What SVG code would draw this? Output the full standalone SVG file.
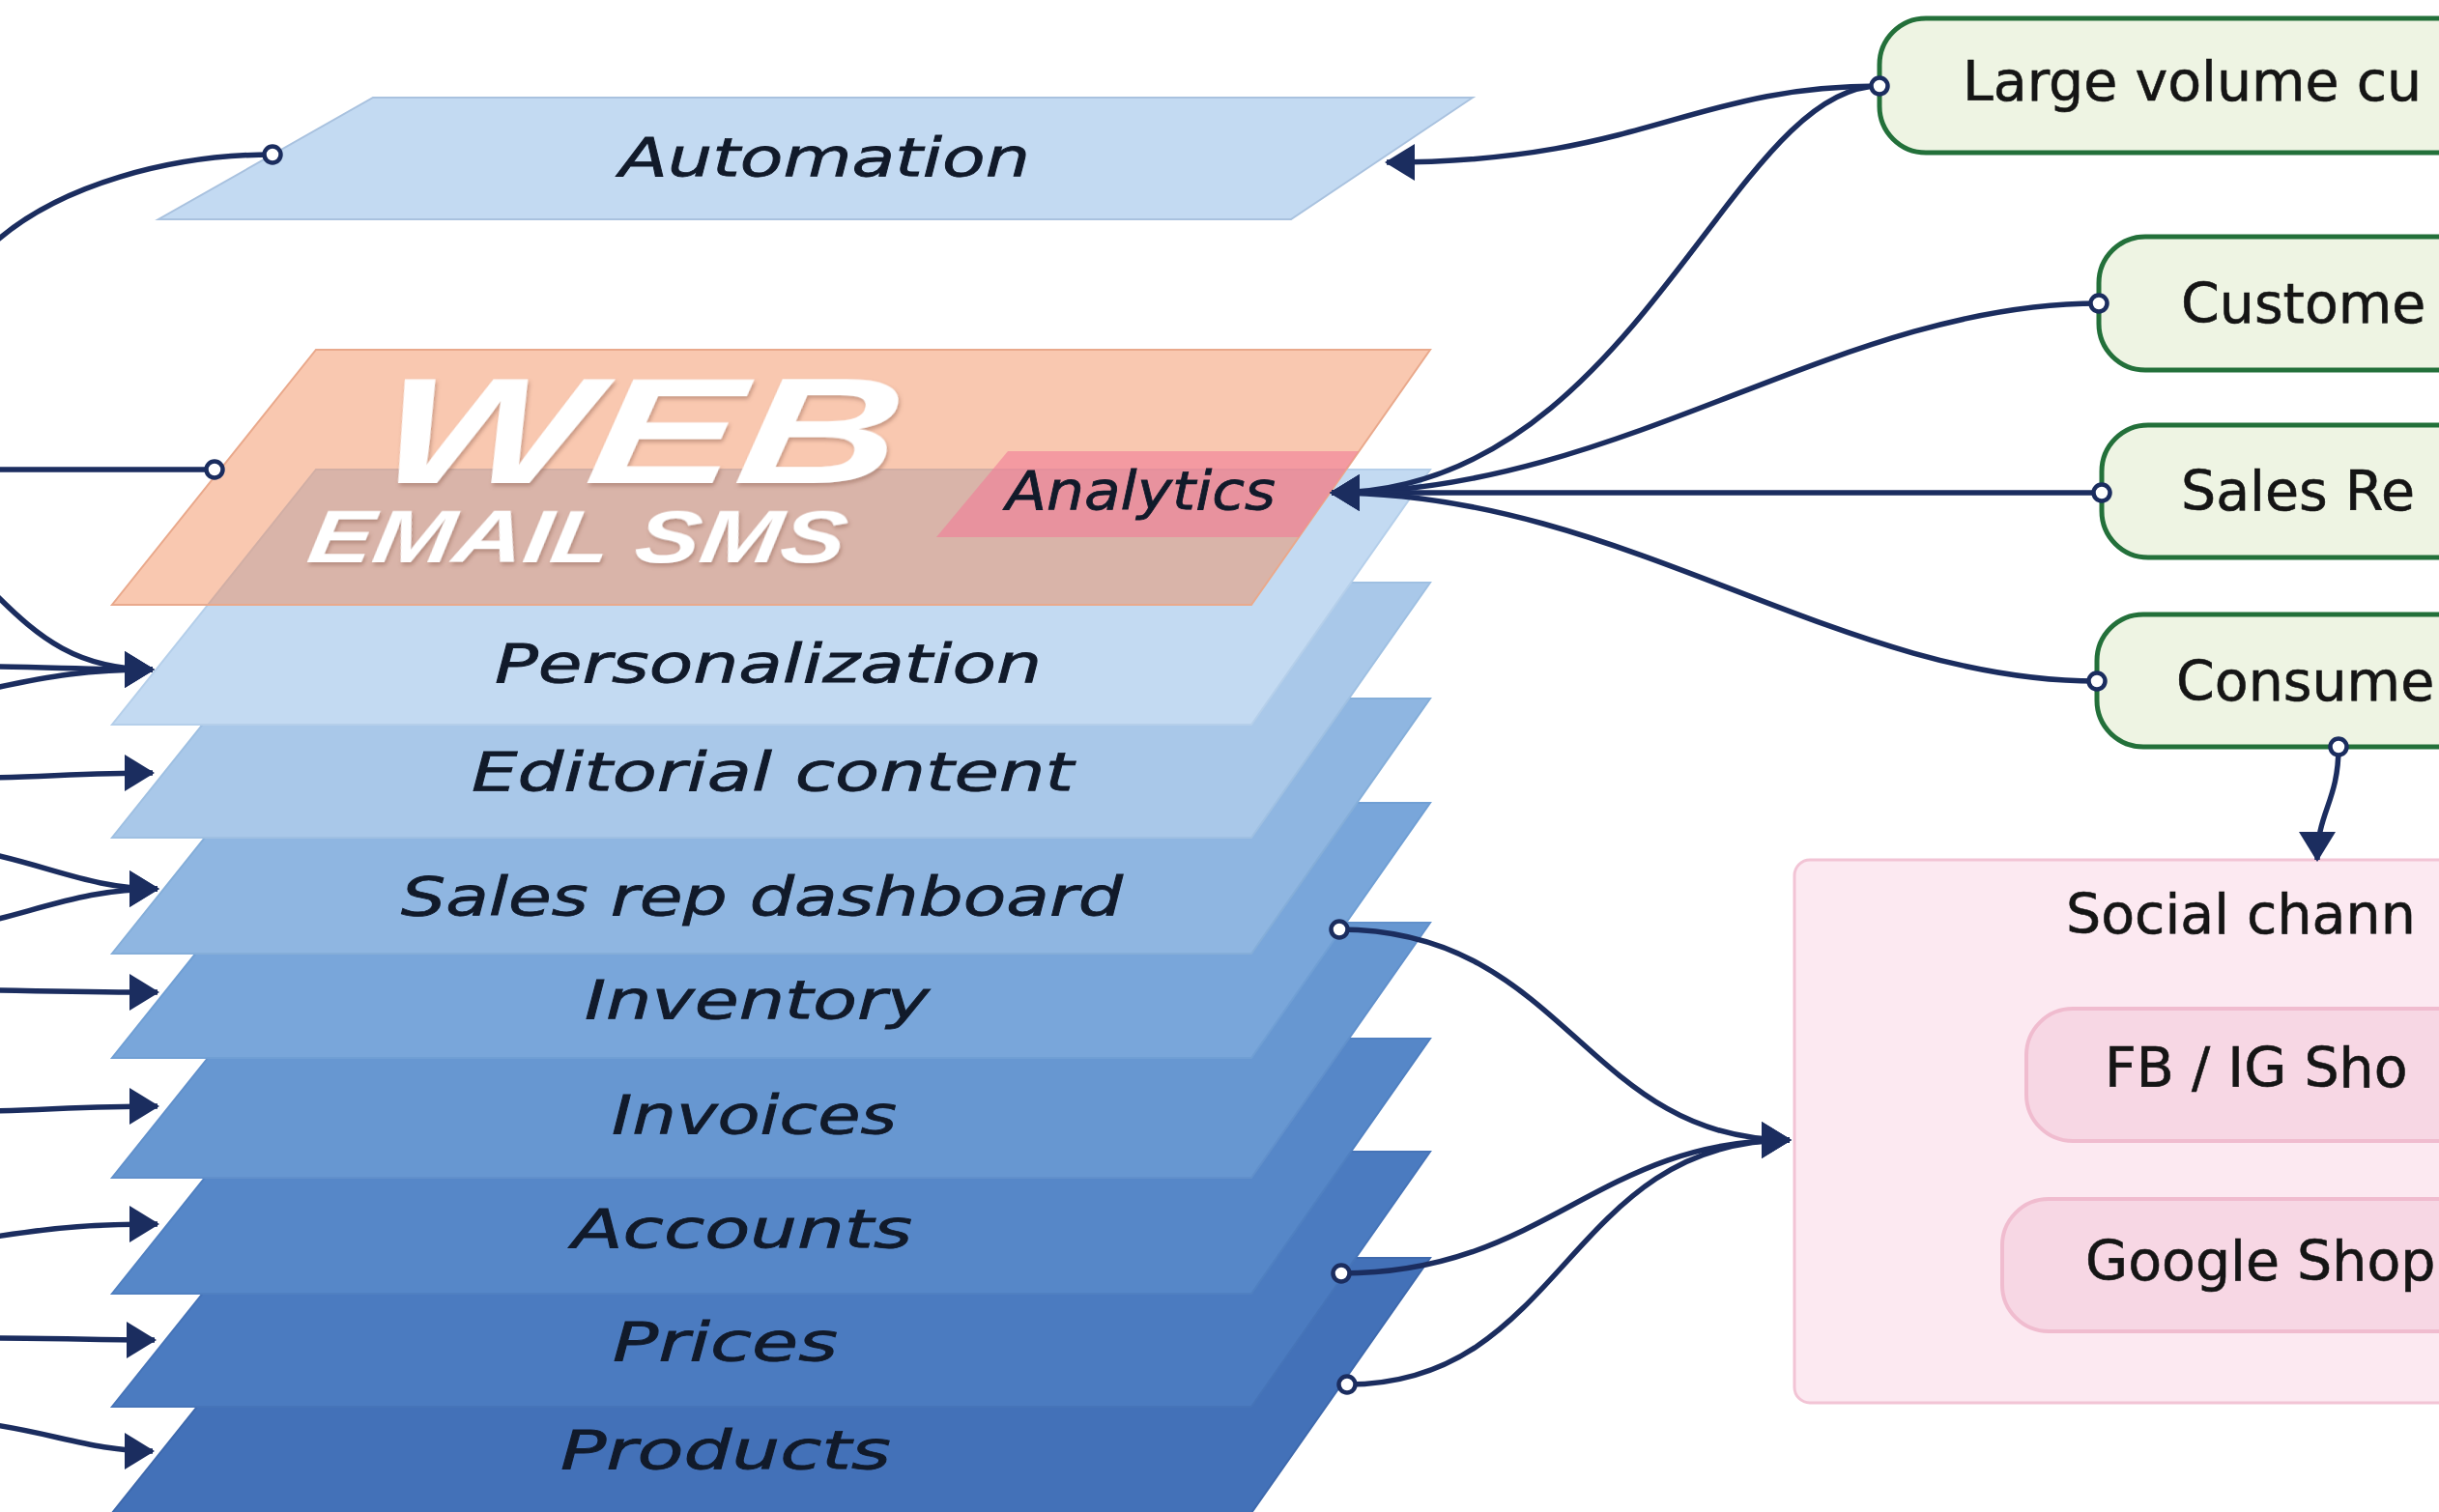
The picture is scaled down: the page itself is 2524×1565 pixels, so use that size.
<svg xmlns="http://www.w3.org/2000/svg" width="2524" height="1565" viewBox="0 0 2524 1565">
<defs>
<style>
.lbl{font-family:"DejaVu Sans","Liberation Sans",sans-serif;font-style:italic;font-size:56px;fill:#111a2a;stroke:#111a2a;stroke-width:0.8}
.big{font-family:"Liberation Sans","DejaVu Sans",sans-serif;font-style:italic;font-weight:bold;fill:#ffffff}
.ntx{font-family:"DejaVu Sans","Liberation Sans",sans-serif;font-size:57px;fill:#151515;stroke:#151515;stroke-width:0.6}
.layer{stroke-width:2}
.gnode{fill:#eef4e3;stroke:#23703a;stroke-width:5}
.pnode{fill:#f7d7e4;stroke:#f0bccf;stroke-width:4}
.conn{fill:none;stroke:#1b2d5f;stroke-width:5.5}
.dot{fill:#ffffff;stroke:#1b2d5f;stroke-width:4.5}
</style>
<marker id="arr" markerUnits="userSpaceOnUse" markerWidth="32" markerHeight="38" refX="29" refY="19" orient="auto">
<path d="M0,0 L31,19 L0,38 Z" fill="#1b2d5f"/>
</marker>
<filter id="sh" x="-10%" y="-10%" width="120%" height="130%">
<feDropShadow dx="2" dy="3" stdDeviation="2" flood-color="#8a5a4a" flood-opacity="0.45"/>
</filter>
</defs>
<rect width="2524" height="1565" fill="#ffffff"/>

<g id="layer-products"><polygon class="layer" points="327,1302 1480,1302 1295,1566 116,1566" fill="#4371b8" stroke="#3e69ad"/><text class="lbl" x="580" y="1520" textLength="342" lengthAdjust="spacingAndGlyphs">Products</text></g>
<g id="layer-prices"><polygon class="layer" points="327,1192 1480,1192 1295,1456 116,1456" fill="#4b7bc0" stroke="#4674b8"/><text class="lbl" x="634" y="1408" textLength="233" lengthAdjust="spacingAndGlyphs">Prices</text></g>
<g id="layer-accounts"><polygon class="layer" points="327,1075 1480,1075 1295,1339 116,1339" fill="#5687c8" stroke="#5080c1"/><text class="lbl" x="592" y="1291" textLength="352" lengthAdjust="spacingAndGlyphs">Accounts</text></g>
<g id="layer-invoices"><polygon class="layer" points="327,955 1480,955 1295,1219 116,1219" fill="#6797d1" stroke="#6190cb"/><text class="lbl" x="633" y="1173" textLength="295" lengthAdjust="spacingAndGlyphs">Invoices</text></g>
<g id="layer-inventory"><polygon class="layer" points="327,831 1480,831 1295,1095 116,1095" fill="#79a6da" stroke="#709fd4"/><text class="lbl" x="605" y="1054" textLength="357" lengthAdjust="spacingAndGlyphs">Inventory</text></g>
<g id="layer-salesrep"><polygon class="layer" points="327,723 1480,723 1295,987 116,987" fill="#8fb6e1" stroke="#85aed9"/><text class="lbl" x="415" y="947" textLength="747" lengthAdjust="spacingAndGlyphs">Sales rep dashboard</text></g>
<g id="layer-editorial"><polygon class="layer" points="327,603 1480,603 1295,867 116,867" fill="#a9c8e9" stroke="#9fc0e2"/><text class="lbl" x="488" y="818" textLength="623" lengthAdjust="spacingAndGlyphs">Editorial content</text></g>
<g id="layer-personalization"><polygon class="layer" points="327,486 1480,486 1295,750 116,750" fill="#c3daf2" stroke="#b5cfea"/><text class="lbl" x="512" y="706" textLength="566" lengthAdjust="spacingAndGlyphs">Personalization</text></g>

<g id="layer-web">
<polygon points="327,362 1480,362 1295,626 116,626" fill="#f28b59" fill-opacity="0.475" stroke="#e9a98c" stroke-width="2"/>
<text class="big" transform="translate(385,500) skewX(-9)" x="0" y="0" font-size="156" textLength="540" lengthAdjust="spacingAndGlyphs" filter="url(#sh)">WEB</text>
<text class="big" transform="translate(316,582) skewX(-9)" x="0" y="0" font-size="76" textLength="556" lengthAdjust="spacingAndGlyphs" filter="url(#sh)">EMAIL SMS</text>
</g>
<g id="node-analytics">
<polygon points="1043,467 1406,467 1344,556 969,556" fill="#f17e97" fill-opacity="0.62"/>
<text class="lbl" x="1041" y="527" font-size="46" textLength="279" lengthAdjust="spacingAndGlyphs">Analytics</text>
</g>
<g id="layer-automation"><polygon class="layer" points="386,101 1524,101 1336,227 164,227" fill="#c3daf2" stroke="#a9c2df"/><text class="lbl" x="641" y="182" textLength="425" lengthAdjust="spacingAndGlyphs">Automation</text></g>

<g id="node-large-volume"><rect class="gnode" x="1945" y="19" width="700" height="139" rx="48"/><text class="ntx" x="2031" y="104">Large volume cu</text></g>
<g id="node-customers"><rect class="gnode" x="2172" y="245" width="500" height="138" rx="48"/><text class="ntx" x="2257" y="334">Custome</text></g>
<g id="node-sales-reps"><rect class="gnode" x="2175" y="440" width="500" height="137" rx="48"/><text class="ntx" x="2257" y="528">Sales Re</text></g>
<g id="node-consumers"><rect class="gnode" x="2170" y="636" width="500" height="137" rx="48"/><text class="ntx" x="2252" y="725">Consume</text></g>

<g id="node-social">
<rect x="1857" y="890" width="800" height="562" rx="16" fill="#fce9f1" stroke="#f2c4d5" stroke-width="3"/>
<text class="ntx" x="2138" y="966">Social chann</text>
</g>
<g id="node-fb-ig"><rect class="pnode" x="2097" y="1044" width="600" height="137" rx="48"/><text class="ntx" x="2178" y="1125">FB / IG Sho</text></g>
<g id="node-google"><rect class="pnode" x="2072" y="1241" width="600" height="137" rx="48"/><text class="ntx" x="2158" y="1325">Google Shop</text></g>

<g id="connectors">
<path class="conn" d="M282,160 C180,160 60,190 -10,255"/>
<path class="conn" d="M222,486 H-10"/>
<path class="conn" marker-end="url(#arr)" d="M-5,615 C40,660 80,693 158,693"/>
<path class="conn" marker-end="url(#arr)" d="M-5,690 C60,691 100,693 158,693"/>
<path class="conn" marker-end="url(#arr)" d="M-5,712 C50,700 90,693 158,693"/>
<path class="conn" marker-end="url(#arr)" d="M-5,805 C60,803 100,800 158,800"/>
<path class="conn" marker-end="url(#arr)" d="M-5,885 C60,900 100,920 163,920"/>
<path class="conn" marker-end="url(#arr)" d="M-5,952 C60,935 100,920 163,920"/>
<path class="conn" marker-end="url(#arr)" d="M-5,1025 C60,1026 100,1027 163,1027"/>
<path class="conn" marker-end="url(#arr)" d="M-5,1150 C60,1148 100,1145 163,1145"/>
<path class="conn" marker-end="url(#arr)" d="M-5,1280 C60,1270 100,1267 163,1267"/>
<path class="conn" marker-end="url(#arr)" d="M-5,1385 C60,1385 100,1387 160,1387"/>
<path class="conn" marker-end="url(#arr)" d="M-5,1475 C60,1485 100,1502 158,1502"/>
<path class="conn" marker-end="url(#arr)" d="M1945,89 C1750,89 1700,168 1435,168"/>
<path class="conn" marker-end="url(#arr)" d="M1945,89 C1790,89 1690,510 1378,510"/>
<path class="conn" marker-end="url(#arr)" d="M2172,314 C1900,314 1680,510 1378,510"/>
<path class="conn" marker-end="url(#arr)" d="M2175,510 L1378,510"/>
<path class="conn" marker-end="url(#arr)" d="M2170,705 C1900,705 1680,510 1378,510"/>
<path class="conn" marker-end="url(#arr)" d="M2420,773 C2420,830 2398,840 2398,890"/>
<path class="conn" marker-end="url(#arr)" d="M1386,962 C1620,962 1640,1180 1852,1180"/>
<path class="conn" marker-end="url(#arr)" d="M1388,1318 C1600,1318 1650,1180 1852,1180"/>
<path class="conn" marker-end="url(#arr)" d="M1394,1433 C1620,1433 1620,1180 1852,1180"/>
<circle class="dot" cx="282" cy="160" r="8.5"/>
<circle class="dot" cx="222" cy="486" r="8.5"/>
<circle class="dot" cx="1945" cy="89" r="8.5"/>
<circle class="dot" cx="2172" cy="314" r="8.5"/>
<circle class="dot" cx="2175" cy="510" r="8.5"/>
<circle class="dot" cx="2170" cy="705" r="8.5"/>
<circle class="dot" cx="2420" cy="773" r="8.5"/>
<circle class="dot" cx="1386" cy="962" r="8.5"/>
<circle class="dot" cx="1388" cy="1318" r="8.5"/>
<circle class="dot" cx="1394" cy="1433" r="8.5"/>
</g>
</svg>
